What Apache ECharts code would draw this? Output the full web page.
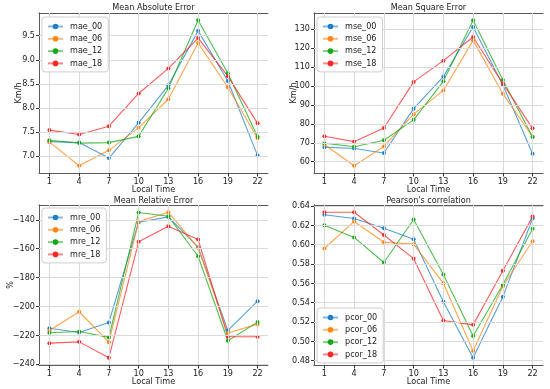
<!DOCTYPE html>
<html>
<head>
<meta charset="utf-8">
<script src="https://cdn.jsdelivr.net/npm/echarts@6/dist/echarts.min.js"></script>
<style>html,body{margin:0;padding:0;background:#fff;}#c{width:550px;height:389px;}</style>
</head>
<body>
<div id="c"></div>
<script>
const localTime = [1, 4, 7, 10, 13, 16, 19, 22];

const mae_00 = [7.30, 7.28, 6.96, 7.69, 8.47, 9.60, 8.56, 7.01];
const mae_06 = [7.29, 6.80, 7.12, 7.59, 8.18, 9.35, 8.43, 7.37];
const mae_12 = [7.33, 7.27, 7.28, 7.41, 8.41, 9.82, 8.72, 7.40];
const mae_18 = [7.54, 7.45, 7.62, 8.30, 8.82, 9.45, 8.66, 7.68];

const mse_00 = [67.7, 67.0, 64.6, 88.0, 104.9, 131.1, 100.5, 64.2];
const mse_06 = [69.1, 57.9, 68.1, 85.1, 97.6, 124.0, 95.9, 73.2];
const mse_12 = [69.8, 67.9, 71.3, 82.1, 102.4, 134.6, 103.1, 73.0];
const mse_18 = [73.4, 70.6, 77.8, 102.1, 113.3, 125.8, 101.2, 77.6];

const mre_00 = [-215.1, -218.1, -211.1, -141.6, -137.9, -158.9, -216.7, -196.4];
const mre_06 = [-216.7, -203.7, -224.8, -141.2, -134.7, -159.4, -218.5, -212.3];
const mre_12 = [-218.3, -217.4, -221.5, -134.9, -137.5, -165.2, -223.8, -210.9];
const mre_18 = [-225.5, -224.6, -235.6, -155.2, -144.4, -153.6, -221.0, -221.0];

const pcor_00 = [0.631, 0.627, 0.617, 0.6055, 0.541, 0.483, 0.546, 0.627];
const pcor_06 = [0.596, 0.624, 0.6025, 0.6005, 0.560, 0.490, 0.557, 0.6035];
const pcor_12 = [0.620, 0.6075, 0.5815, 0.626, 0.569, 0.5055, 0.5585, 0.6165];
const pcor_18 = [0.6335, 0.6335, 0.610, 0.5855, 0.5215, 0.517, 0.573, 0.629];

const maeTicks = [7.0, 7.5, 8.0, 8.5, 9.0, 9.5];
const mseTicks = [60, 70, 80, 90, 100, 110, 120, 130];
const mreTicks = [-240, -220, -200, -180, -160, -140];
const pcorTicks = [0.48, 0.50, 0.52, 0.54, 0.56, 0.58, 0.60, 0.62, 0.64];

const titles = ['Mean Absolute Error', 'Mean Square Error', 'Mean Relative Error', "Pearson's correlation"];
const yNames = ['Km/h', 'Km/h', '%', ''];
const xName = 'Local Time';
const suffixes = ['_00', '_06', '_12', '_18'];

const colors = ['#1f80c8', '#ff8410', '#16a816', '#ff2626'];
const FONT = '"DejaVu Sans Condensed", "DejaVu Sans", sans-serif';
const FS = 9;

const panels = [
  {prefix: 'mae', data: [mae_00, mae_06, mae_12, mae_18], ticks: maeTicks, dec: 1},
  {prefix: 'mse', data: [mse_00, mse_06, mse_12, mse_18], ticks: mseTicks, dec: 0},
  {prefix: 'mre', data: [mre_00, mre_06, mre_12, mre_18], ticks: mreTicks, dec: 0},
  {prefix: 'pcor', data: [pcor_00, pcor_06, pcor_12, pcor_18], ticks: pcorTicks, dec: 2}
];

const grids = [
  {left: 39, top: 13, width: 229, height: 160},
  {left: 314, top: 13, width: 229, height: 160},
  {left: 39, top: 205, width: 229, height: 160},
  {left: 314, top: 205, width: 229, height: 160}
];
const legendPos = [
  {left: 42, top: 17},
  {left: 317, top: 17},
  {left: 42, top: 208},
  {left: 317, top: 308}
];
const titleTop = [3, 3, 196, 196];
const yNameGap = [16, 16, 24, 0];

function margins(arrs, frac) {
  let lo = Infinity, hi = -Infinity;
  arrs.forEach(a => a.forEach(v => { lo = Math.min(lo, v); hi = Math.max(hi, v); }));
  const m = (hi - lo) * frac;
  return [lo - m, hi + m];
}

const span = localTime[localTime.length - 1] - localTime[0];
const xLo = localTime[0] - span * 0.05;
const xHi = localTime[localTime.length - 1] + span * 0.05;

const axisLineStyle = {color: '#5a5a5a', width: 1};
const gridColor = '#dadada';

const option = {
  animation: false,
  backgroundColor: '#fff',
  title: [], grid: [], xAxis: [], yAxis: [], legend: [], series: []
};

panels.forEach((p, i) => {
  const g = grids[i];
  option.grid.push(Object.assign({containLabel: false}, g));
  option.title.push({
    text: titles[i], left: g.left + g.width / 2, top: titleTop[i], textAlign: 'center', padding: 0,
    textStyle: {fontFamily: FONT, fontSize: FS, fontWeight: 'normal', color: '#222'}
  });
  option.xAxis.push({
    type: 'value', gridIndex: i, min: xLo, max: xHi,
    name: xName, nameLocation: 'middle', nameGap: 12, nameMoveOverlap: false,
    nameTextStyle: {fontFamily: FONT, fontSize: FS, color: '#222'},
    axisLine: {show: true, lineStyle: axisLineStyle},
    axisTick: {show: true, customValues: localTime, length: 3.5, lineStyle: {color: '#333'}},
    axisLabel: {customValues: localTime, fontFamily: FONT, fontSize: FS, color: '#222', margin: 4},
    splitLine: {show: false}
  });
  const [lo, hi] = margins(p.data, 0.05);
  option.yAxis.push({
    type: 'value', gridIndex: i, min: lo, max: hi,
    name: yNames[i], nameLocation: 'middle', nameGap: yNameGap[i], nameMoveOverlap: false,
    nameTextStyle: {fontFamily: FONT, fontSize: FS, color: '#222'},
    axisLine: {show: true, lineStyle: axisLineStyle},
    axisTick: {show: true, customValues: p.ticks, length: 3.5, lineStyle: {color: '#333'}},
    axisLabel: {
      customValues: p.ticks, fontFamily: FONT, fontSize: FS, color: '#222', margin: 4,
      formatter: v => v.toFixed(p.dec).replace('-', '\u2212')
    },
    splitLine: {show: false}
  });
  // top/right frame
  option.xAxis.push({
    type: 'value', gridIndex: i, position: 'top', min: xLo, max: xHi,
    axisLine: {show: true, lineStyle: axisLineStyle}, axisTick: {show: false},
    axisLabel: {show: false}, splitLine: {show: false}
  });
  option.yAxis.push({
    type: 'value', gridIndex: i, position: 'right', min: lo, max: hi,
    axisLine: {show: true, lineStyle: axisLineStyle}, axisTick: {show: false},
    axisLabel: {show: false}, splitLine: {show: false}
  });
  const names = suffixes.map(s => p.prefix + s);
  option.legend.push(Object.assign({
    orient: 'vertical', data: names, itemWidth: 15, itemHeight: 7, itemGap: 3.3,
    padding: [5, 6, 4, 5], borderColor: '#cfcfcf', borderWidth: 1, borderRadius: 3,
    backgroundColor: '#ffffff', z: 10,
    textStyle: {fontFamily: FONT, fontSize: FS, color: '#222', lineHeight: 9, padding: [0, 0, 0, 2]},
    lineStyle: {width: 2, opacity: 0.55}
  }, legendPos[i]));
  // grid lines at tick positions
  option.series.push({
    type: 'line', name: 'grid' + i, xAxisIndex: 2 * i, yAxisIndex: 2 * i, data: [], z: 1,
    silent: true,
    markLine: {
      silent: true, symbol: ['none', 'none'], label: {show: false}, animation: false,
      lineStyle: {color: gridColor, type: 'solid', width: 1},
      emphasis: {disabled: true},
      data: localTime.map(t => ({xAxis: t})).concat(p.ticks.map(v => ({yAxis: v})))
    }
  });
  p.data.forEach((arr, k) => {
    option.series.push({
      type: 'line', name: names[k], xAxisIndex: 2 * i, yAxisIndex: 2 * i, z: 3,
      data: localTime.map((t, j) => [t, arr[j]]),
      symbol: 'circle', symbolSize: 4, showSymbol: true,
      itemStyle: {color: colors[k]},
      lineStyle: {color: colors[k], width: 1.1, opacity: 0.75},
      emphasis: {disabled: true}
    });
  });
});

const chart = echarts.init(document.getElementById('c'), null, {renderer: 'canvas'});
chart.setOption(option);
</script>
</body>
</html>
